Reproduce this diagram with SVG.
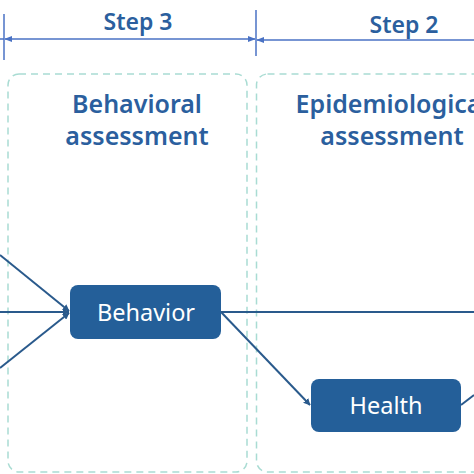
<svg xmlns="http://www.w3.org/2000/svg" width="474" height="474" viewBox="0 0 474 474">
<style>
.hdr{font-family:"Noto Sans","Open Sans",sans-serif;font-weight:600;fill:#2b5f9e;text-anchor:middle}
.box{fill:none;stroke:#a9dcd3;stroke-width:1.5;stroke-dasharray:7 5}
.node{fill:#245f99}
.lbl{font-family:"Noto Sans","Open Sans",sans-serif;fill:#fff;font-size:23.5px;text-anchor:middle}
.con{stroke:#2a5a8c;stroke-width:2;fill:none}
.dim{stroke:#4a72c4;stroke-width:1.5;fill:none}
</style>
<defs>
<marker id="ah" viewBox="0 0 10 10" refX="9" refY="5" markerWidth="7" markerHeight="7" orient="auto-start-reverse" markerUnits="userSpaceOnUse">
<path d="M0,0 L10,5 L0,10 z" fill="#2a5a8c"/>
</marker>
<marker id="dh" viewBox="0 0 10 10" refX="9" refY="5" markerWidth="8" markerHeight="8" orient="auto-start-reverse" markerUnits="userSpaceOnUse">
<path d="M0,1 L10,5 L0,9 z" fill="#4a72c4"/>
</marker>
</defs>
<rect width="474" height="474" fill="#fff"/>
<g id="dimensions">
<line class="dim" x1="4" y1="14" x2="4" y2="60"/>
<line class="dim" x1="256" y1="10" x2="256" y2="56"/>
<line class="dim" x1="0" y1="39" x2="4" y2="39"/>
<line class="dim" x1="5" y1="39" x2="255" y2="39" marker-start="url(#dh)" marker-end="url(#dh)"/>
<line class="dim" x1="257" y1="40" x2="474" y2="40" marker-start="url(#dh)"/>
<text class="hdr" x="138" y="30" font-size="23">Step 3</text>
<text class="hdr" x="404" y="33" font-size="23">Step 2</text>
</g>
<g id="phase-behavioral">
<rect class="box" x="8" y="74" width="239" height="398" rx="11"/>
<text class="hdr" x="137" y="113" font-size="25">Behavioral</text>
<text class="hdr" x="137" y="145" font-size="25">assessment</text>
</g>
<g id="phase-epidemiological">
<rect class="box" x="256.5" y="74" width="240" height="398" rx="11"/>
<text class="hdr" x="392" y="113" font-size="25">Epidemiological</text>
<text class="hdr" x="392" y="145" font-size="25">assessment</text>
</g>
<g id="connectors">
<line class="con" x1="0" y1="255" x2="69" y2="311" marker-end="url(#ah)"/>
<line class="con" x1="0" y1="312" x2="69" y2="312" marker-end="url(#ah)"/>
<line class="con" x1="0" y1="368" x2="69" y2="313" marker-end="url(#ah)"/>
<line class="con" x1="221" y1="312" x2="474" y2="312"/>
<line class="con" x1="221" y1="312" x2="310" y2="405" marker-end="url(#ah)"/>
<line class="con" x1="461" y1="405" x2="474" y2="395"/>
</g>
<g id="node-behavior">
<rect class="node" x="70" y="285" width="151" height="54" rx="8"/>
<text class="lbl" x="146" y="321">Behavior</text>
</g>
<g id="node-health">
<rect class="node" x="311" y="379" width="150" height="53" rx="8"/>
<text class="lbl" x="386" y="414">Health</text>
</g>
</svg>
